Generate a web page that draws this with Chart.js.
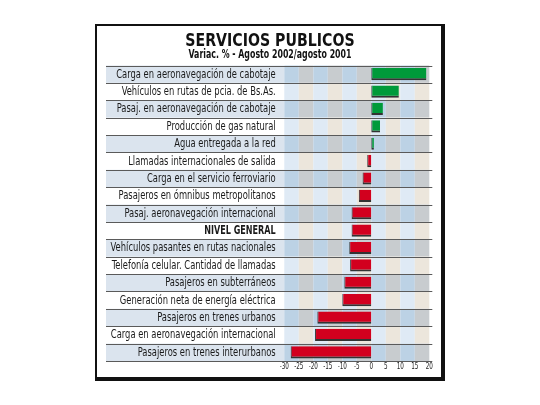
<!DOCTYPE html>
<html>
<head>
<meta charset="utf-8">
<script src="https://cdn.jsdelivr.net/npm/chart.js@4/dist/chart.umd.min.js"></script>
<style>
  html, body { margin: 0; padding: 0; background: #fff; }
  #frame { position: absolute; left: 95px; top: 24px; width: 344px; height: 351px;
           border-style: solid; border-color: #111; border-width: 2px 4px 4px 2px; background: #fff; }
  #wrap { position: absolute; left: 0; top: 0; width: 540px; height: 405px; }
  .t { position: absolute; left: 95px; width: 350px; text-align: center; color: #111;
       font-family: 'DejaVu Sans Condensed', 'DejaVu Sans', sans-serif; font-weight: bold; white-space: nowrap;
       transform-origin: 175px 50%; }
  #title { top: 29px; font-size: 18.5px; line-height: 22px; transform: scaleX(0.85); }
  #sub { top: 47px; font-size: 11.5px; line-height: 14px; transform: scaleX(0.76); }
</style>
</head>
<body>
<div id="frame"></div>
<div id="wrap"><canvas id="c"></canvas></div>
<div class="t" id="title">SERVICIOS PUBLICOS</div>
<div class="t" id="sub">Variac. % - Agosto 2002/agosto 2001</div>
<script>
const categories = [
  "Carga en aeronavegación de cabotaje",
  "Vehículos en rutas de pcia. de Bs.As.",
  "Pasaj. en aeronavegación de cabotaje",
  "Producción de gas natural",
  "Agua entregada a la red",
  "Llamadas internacionales de salida",
  "Carga en el servicio ferroviario",
  "Pasajeros en ómnibus metropolitanos",
  "Pasaj. aeronavegación internacional",
  "NIVEL GENERAL",
  "Vehículos pasantes en rutas nacionales",
  "Telefonía celular. Cantidad de llamadas",
  "Pasajeros en subterráneos",
  "Generación neta de energía eléctrica",
  "Pasajeros en trenes urbanos",
  "Carga en aeronavegación internacional",
  "Pasajeros en trenes interurbanos"
];
const variation = [19.0, 9.5, 4.0, 3.0, 0.9, -1.4, -3.0, -4.3, -6.8, -6.8, -7.6, -7.3, -9.3, -10.0, -18.6, -19.4, -27.8];
const xTicks = [-30, -25, -20, -15, -10, -5, 0, 5, 10, 15, 20];
const boldCategory = "NIVEL GENERAL";

const FONT = "'DejaVu Sans Condensed', 'DejaVu Sans', sans-serif";

const gridBackground = {
  id: 'gridBackground',
  beforeDraw(chart) {
    const ctx = chart.ctx;
    const xs = chart.scales.x, ys = chart.scales.y;
    const area = chart.chartArea;
    const bandLeft = 106;
    ctx.save();
    for (let i = 0; i < categories.length; i++) {
      const top = ys.getPixelForValue(i - 0.5);
      const bot = ys.getPixelForValue(i + 0.5);
      const dark = i % 2 === 0;
      if (dark) {
        ctx.fillStyle = '#dbe4ee';
        ctx.fillRect(bandLeft, top, area.left - bandLeft, bot - top);
      }
      for (let k = 0; k < xTicks.length - 1; k++) {
        const l = xs.getPixelForValue(xTicks[k]);
        const r = xs.getPixelForValue(xTicks[k + 1]);
        const blueCol = k % 2 === 0;
        if (dark) ctx.fillStyle = blueCol ? '#bcd2e5' : '#c8cccf';
        else ctx.fillStyle = blueCol ? '#dfeaf5' : '#ece6dc';
        ctx.fillRect(l, top, r - l, bot - top);
      }
    }
    ctx.strokeStyle = '#5a5a5a';
    ctx.lineWidth = 1;
    for (let i = 0; i <= categories.length; i++) {
      const y = Math.round(ys.getPixelForValue(i - 0.5)) + 0.5;
      ctx.beginPath();
      ctx.moveTo(bandLeft, y);
      ctx.lineTo(area.right + 3, y);
      ctx.stroke();
    }
    ctx.restore();
  }
};

// Draws axis labels at the scales' own tick positions, horizontally condensed like the original face
const condensedLabels = {
  id: 'condensedLabels',
  afterDraw(chart) {
    const ctx = chart.ctx;
    const xs = chart.scales.x, ys = chart.scales.y;
    const area = chart.chartArea;
    ctx.save();
    ctx.fillStyle = '#1a1a1a';
    ctx.textBaseline = 'middle';
    ctx.textAlign = 'right';
    ys.ticks.forEach((t, i) => {
      const label = ys.getLabelForValue(t.value);
      const bold = label === boldCategory;
      ctx.font = (bold ? 'bold ' : '') + '11.5px ' + FONT;
      ctx.save();
      ctx.translate(area.left - 8.6, ys.getPixelForValue(t.value) + 0.5);
      ctx.scale(bold ? 0.78 : 0.81, 1);
      ctx.fillText(label, 0, 0);
      ctx.restore();
    });
    ctx.textAlign = 'center';
    ctx.font = '8.5px ' + FONT;
    ctx.fillStyle = '#222';
    xs.ticks.forEach(t => {
      ctx.save();
      ctx.translate(xs.getPixelForValue(t.value), area.bottom + 6);
      ctx.scale(0.74, 1);
      ctx.fillText(String(t.value), 0, 0);
      ctx.restore();
    });
    ctx.restore();
  }
};

new Chart(document.getElementById('c'), {
  type: 'bar',
  data: {
    labels: categories,
    datasets: [{
      data: variation,
      backgroundColor: variation.map(v => v >= 0 ? '#009a3a' : '#d2001e'),
      borderColor: '#333',
      borderWidth: { top: 0, right: 0, bottom: 2, left: 1 },
      borderSkipped: false,
      barPercentage: 0.7,
      categoryPercentage: 1.0
    }]
  },
  options: {
    indexAxis: 'y',
    responsive: true,
    maintainAspectRatio: false,
    animation: false,
    events: [],
    layout: { padding: { top: 65.5, right: 110.7, bottom: 28, left: 0 } },
    plugins: { legend: { display: false }, tooltip: { enabled: false }, title: { display: false } },
    scales: {
      x: {
        type: 'linear', min: -30, max: 20,
        afterBuildTicks(scale) { scale.ticks = xTicks.map(v => ({ value: v })); },
        afterFit(scale) { scale.height = 16; },
        grid: { display: false, drawTicks: false },
        border: { display: false },
        ticks: { display: false }
      },
      y: {
        type: 'category',
        afterFit(scale) { scale.width = 284.3; },
        grid: { display: false, drawTicks: false },
        border: { display: false },
        ticks: { display: false, autoSkip: false }
      }
    }
  },
  plugins: [gridBackground, condensedLabels]
});
</script>
</body>
</html>
